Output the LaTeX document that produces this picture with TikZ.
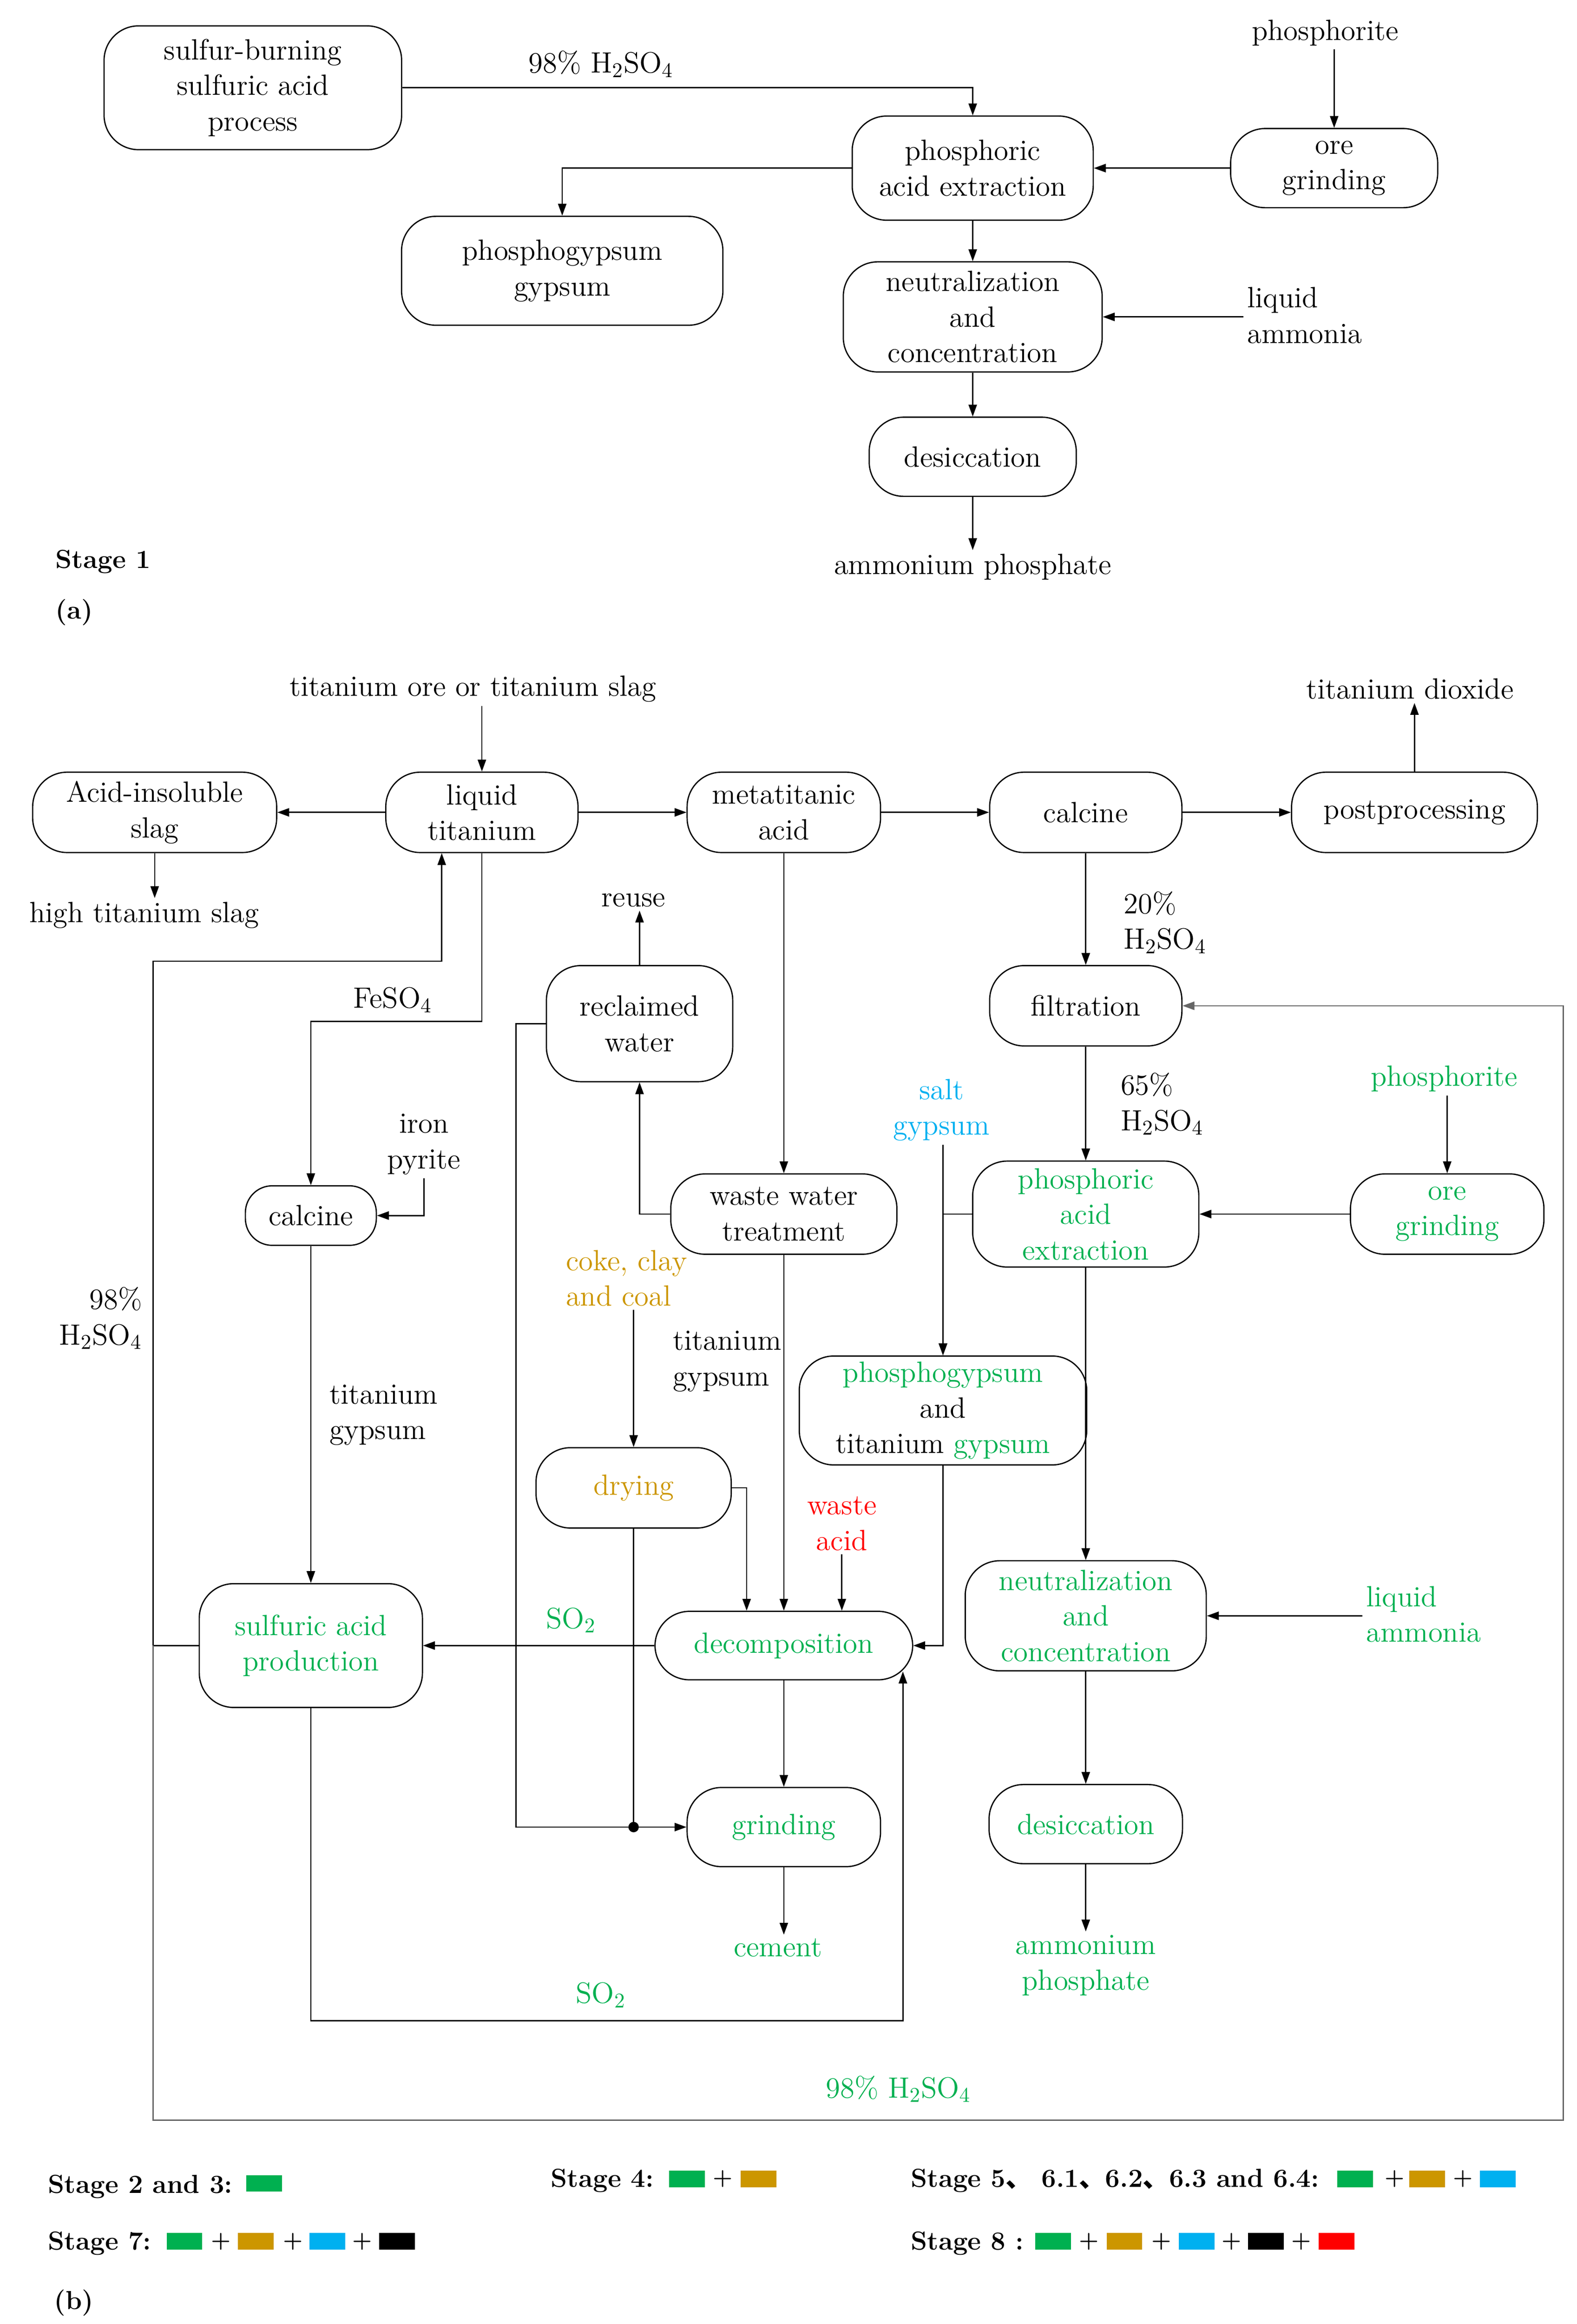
\documentclass[tikz,border=0pt]{standalone}
\usepackage{fontspec}
\newfontfamily\cjk{Noto Sans CJK SC}
\usetikzlibrary{arrows.meta}
\definecolor{cgreen}{RGB}{0,176,80}
\definecolor{corange}{RGB}{204,150,0}
\definecolor{cblue}{RGB}{0,176,240}
\definecolor{cred}{RGB}{255,0,0}
\newcommand{\mainfs}{\fontsize{14}{17}\selectfont}
\newcommand{\stagefs}{\fontsize{12.5}{15}\selectfont\bfseries}

\tikzset{
  proc/.style={draw, rounded corners=0.58cm, align=center, inner sep=0pt, font=\mainfs},
  lbl/.style={align=center, inner sep=1.5pt, font=\mainfs},
  arr/.style={-{Triangle[length=2mm,width=1.4mm]}},
  stagetxt/.style={anchor=base west, inner sep=0pt, font=\stagefs},
  swatch/.style={fill=#1, minimum width=0.6cm, minimum height=0.28cm, inner sep=0pt},
  plus/.style={inner sep=0pt, font=\fontsize{10.5}{12}\selectfont\bfseries}
}

\begin{document}
\begin{tikzpicture}[x=0.025cm, y=-0.025cm, line width=0.6pt]
\useasboundingbox (0,0) rectangle (1060,1562);

% (a) stage 1
\node[proc, minimum width=5cm, minimum height=2.08cm] (sulA) at (170,59)
  {sulfur-burning\\sulfuric acid\\process};
\node[proc, minimum width=4.05cm, minimum height=1.75cm] (phaA) at (654,113)
  {phosphoric\\acid extraction};
\node[proc, minimum width=3.48cm, minimum height=1.33cm] (oreA) at (897,113)
  {ore\\grinding};
\node[proc, minimum width=5.4cm, minimum height=1.83cm] (pgA) at (378,182)
  {phosphogypsum\\gypsum};
\node[proc, minimum width=4.35cm, minimum height=1.85cm] (neuA) at (654,213)
  {neutralization\\and\\concentration};
\node[proc, minimum width=3.48cm, minimum height=1.33cm] (desA) at (654,307)
  {desiccation};

\node[lbl] (h2A) at (404,43) {98\% H$_2$SO$_4$};
\node[lbl] (phoA) at (891,22) {phosphorite};
\node[lbl, align=left, anchor=west] (laA) at (836,212) {liquid\\ammonia};
\node[lbl] (apA) at (654,381) {ammonium phosphate};
\node[stagetxt] (st1) at (37,382) {Stage 1};
\node[stagetxt] (figa) at (37,416) {(a)};

\draw[arr] (sulA.east) -| (phaA.north);
\draw[arr] (oreA.north |- phoA.south) -- (oreA.north);
\draw[arr] (oreA.west) -- (phaA.east);
\draw[arr] (phaA.west) -| (pgA.north);
\draw[arr] (phaA.south) -- (neuA.north);
\draw[arr] (neuA.east -| laA.west) -- (neuA.east);
\draw[arr] (neuA.south) -- (desA.north);
\draw[arr] (desA.south) -- (apA.north);

% (b) top row
\node[proc, minimum width=4.1cm, minimum height=1.35cm] (slagB) at (104,546)
  {Acid-insoluble\\slag};
\node[proc, minimum width=3.23cm, minimum height=1.35cm] (liqB) at (324,546)
  {liquid\\titanium};
\node[proc, minimum width=3.25cm, minimum height=1.35cm] (metaB) at (527,546)
  {metatitanic\\acid};
\node[proc, minimum width=3.23cm, minimum height=1.35cm] (calB) at (730,546)
  {calcine};
\node[proc, minimum width=4.13cm, minimum height=1.35cm] (postB) at (951,546)
  {postprocessing};

% (b) middle
\node[proc, minimum width=3.23cm, minimum height=1.35cm] (filB) at (730,676)
  {filtration};
\node[proc, minimum width=3.13cm, minimum height=1.95cm] (recB) at (430,688)
  {reclaimed\\water};
\node[proc, minimum width=3.8cm, minimum height=1.35cm] (wwtB) at (527,816)
  {waste water\\treatment};
\node[proc, rounded corners=0.45cm, minimum width=2.2cm, minimum height=1cm] (calsB) at (209,817)
  {calcine};
\node[proc, text=cgreen, minimum width=3.8cm, minimum height=1.78cm] (phaB) at (730,816)
  {phosphoric\\acid\\extraction};
\node[proc, text=cgreen, minimum width=3.25cm, minimum height=1.35cm] (oreB) at (973,816)
  {ore\\grinding};
\node[proc, minimum width=4.83cm, minimum height=1.83cm] (pgB) at (634,948)
  {{\color{cgreen}phosphogypsum}\\and\\titanium\ {\color{cgreen}gypsum}};
\node[proc, text=corange, minimum width=3.28cm, minimum height=1.35cm] (dryB) at (426,1000)
  {drying};

% (b) bottom
\node[proc, text=cgreen, minimum width=3.75cm, minimum height=2.08cm] (sapB) at (209,1106)
  {sulfuric acid\\production};
\node[proc, text=cgreen, minimum width=4.33cm, minimum height=1.15cm] (decB) at (527,1106)
  {decomposition};
\node[proc, text=cgreen, minimum width=4.05cm, minimum height=1.85cm] (neuB) at (730,1086)
  {neutralization\\and\\concentration};
\node[proc, text=cgreen, minimum width=3.25cm, minimum height=1.33cm] (grB) at (527,1228)
  {grinding};
\node[proc, text=cgreen, minimum width=3.25cm, minimum height=1.33cm] (desB) at (730,1226)
  {desiccation};

% (b) labels
\node[lbl] (tosB) at (318,463) {titanium ore or titanium slag};
\node[lbl] (tdB) at (948,463) {titanium dioxide};
\node[lbl] (htsB) at (97,615) {high titanium slag};
\node[lbl] (reuseB) at (426,605) {reuse};
\node[lbl] (fesoB) at (264,672) {FeSO$_4$};
\node[lbl] (ipB) at (285,769) {iron\\pyrite};
\node[lbl, align=right, anchor=east] (h2lB) at (98,886) {98\%\\H$_2$SO$_4$};
\node[lbl, align=left, anchor=west] (tg1B) at (219,951) {titanium\\gypsum};
\node[lbl, align=left, anchor=west] (tg2B) at (450,915) {titanium\\gypsum};
\node[lbl, align=left, anchor=west, text=corange] (ccB) at (378,859) {coke, clay\\and coal};
\node[lbl, text=cred] (waB) at (566,1024) {waste\\acid};
\node[lbl, text=cgreen] (so1B) at (384,1089) {SO$_2$};
\node[lbl, text=cgreen] (so2B) at (404,1341) {SO$_2$};
\node[lbl, text=cgreen] (cemB) at (523,1309) {cement};
\node[lbl, text=cblue] (sgB) at (633,746) {salt\\gypsum};
\node[lbl, align=left, anchor=west] (h20B) at (753,620) {20\%\\H$_2$SO$_4$};
\node[lbl, align=left, anchor=west] (h65B) at (751,742) {65\%\\H$_2$SO$_4$};
\node[lbl, text=cgreen] (phB) at (971,725) {phosphorite};
\node[lbl, align=left, anchor=west, text=cgreen] (laB) at (916,1085) {liquid\\ammonia};
\node[lbl, text=cgreen] (apB) at (730,1321) {ammonium\\phosphate};
\node[lbl, text=cgreen] (h98B) at (604,1404) {98\% H$_2$SO$_4$};

% (b) connectors
\draw[arr] (tosB.south -| liqB.north) -- (liqB.north);
\draw[arr] (liqB.west) -- (slagB.east);
\draw[arr] (liqB.east) -- (metaB.west);
\draw[arr] (metaB.east) -- (calB.west);
\draw[arr] (calB.east) -- (postB.west);
\draw[arr] (postB.north) -- (postB.north |- tdB.south);
\draw[arr] (slagB.south) -- (slagB.south |- htsB.north);
\draw[arr] (liqB.south) -- ++(0,113) -| (calsB.north);
\draw[arr] (ipB.south) |- (calsB.east);
\draw[arr] (calsB.south) -- (sapB.north);
\draw[arr] (metaB.south) -- (wwtB.north);
\draw[arr] (wwtB.west) -| (recB.south);
\draw[arr] (recB.north) -- (recB.north |- reuseB.south);
\draw[arr] (wwtB.south) -- (decB.north);
\draw[arr] (recB.west) -- ++(-20,0) |- (grB.west);
\coordinate (dotB) at (dryB.south |- grB.west);
\fill (dotB) circle (3.5);
\draw[arr] (dryB.north |- ccB.south) -- (dryB.north);
\draw (dryB.south) -- (dotB);
\draw[arr] (dryB.east) -| ([xshift=-0.625cm]decB.north);
\draw[arr] (waB.south) -- (waB.south |- decB.north);
\draw[arr] (decB.west) -- (sapB.east);
\draw[arr] (decB.south) -- (grB.north);
\draw[arr] (grB.south) -- (grB.south |- cemB.north);
\draw[arr] (sapB.south) -- ++(0,210) -| ([xshift=-0.175cm,yshift=0.15cm]decB.south east);
\draw[arr] (pgB.south) |- (decB.east);
\draw[arr] (pgB.north |- sgB.south) -- (pgB.north);
\draw[arr] (phaB.west) -| (pgB.north);
\draw[arr] (calB.south) -- (filB.north);
\draw[arr] (filB.south) -- (phaB.north);
\draw[arr] (oreB.north |- phB.south) -- (oreB.north);
\draw[arr] (oreB.west) -- (phaB.east);
\draw[arr] (phaB.south) -- (neuB.north);
\draw[arr] (neuB.east -| laB.west) -- (neuB.east);
\draw[arr] (neuB.south) -- (desB.north);
\draw[arr] (desB.south) -- (desB.south |- apB.north);

% 98% H2SO4 return loops
\coordinate (jB) at (sapB.west -| 103,0);
\draw[arr] (sapB.west) -| (103,646) -| ([xshift=-0.675cm]liqB.south);
\draw[arr, draw=black!60] (jB) |- (1051,1425) |- (filB.east);

% legend
\node[stagetxt] (st23) at (32,1474) {Stage 2 and 3:};
\node[swatch=cgreen] (s23a) at (177.5,1467.5) {};
\node[stagetxt] (st4) at (370,1470) {Stage 4:};
\node[swatch=cgreen] (s4a) at (462,1464.5) {};
\node[plus] (p4a) at (486,1464.5) {+};
\node[swatch=corange] (s4b) at (510,1464.5) {};
\node[stagetxt] (st5) at (612,1470) {Stage 5{\cjk 、} 6.1{\cjk 、}6.2{\cjk 、}6.3 and 6.4:};
\foreach \n/\c/\x in {a/cgreen/911, b/corange/959.5, c/cblue/1007}
  \node[swatch=\c] (s5\n) at (\x,1464.5) {};
\foreach \n/\x in {a/937.6, b/983.6}
  \node[plus] (p5\n) at (\x,1464.5) {+};
\node[stagetxt] (st7) at (32,1512) {Stage 7:};
\foreach \n/\c/\x in {a/cgreen/124, b/corange/172, c/cblue/220, d/black/267}
  \node[swatch=\c] (s7\n) at (\x,1506.5) {};
\foreach \n/\x in {a/148.7, b/197, c/243.5}
  \node[plus] (p7\n) at (\x,1506.5) {+};
\node[stagetxt] (st8) at (612,1512) {Stage 8 :};
\foreach \n/\c/\x in {a/cgreen/708, b/corange/756, c/cblue/804.5, d/black/851, e/cred/898.5}
  \node[swatch=\c] (s8\n) at (\x,1506.5) {};
\foreach \n/\x in {a/732, b/781, c/828, d/875}
  \node[plus] (p8\n) at (\x,1506.5) {+};
\node[stagetxt] (figb) at (36,1552) {(b)};
\end{tikzpicture}
\end{document}
